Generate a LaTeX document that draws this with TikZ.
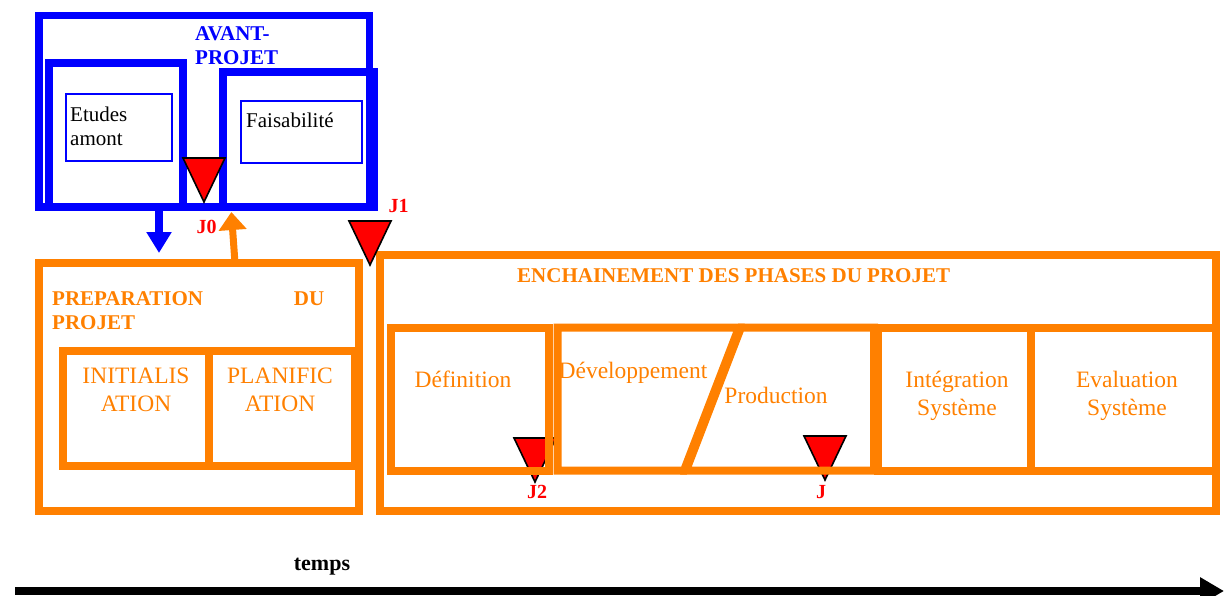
\documentclass[tikz,border=0pt]{standalone}
\usepackage{fontspec}
\setmainfont{Liberation Serif}
\usetikzlibrary{arrows.meta,calc}
\definecolor{avantblue}{RGB}{0,0,255}
\definecolor{projorange}{RGB}{255,128,0}
\definecolor{jalonred}{RGB}{255,0,0}
\tikzstyle{bluebox}=[
  draw=avantblue,
  inner sep=0pt,
  line width=8pt,
  outer sep=0pt,
  rectangle,
]
\tikzstyle{thinbox}=[
  draw=avantblue,
  inner sep=0pt,
  line width=1.5pt,
  outer sep=0pt,
  rectangle,
]
\tikzstyle{orangebox}=[
  draw=projorange,
  inner sep=0pt,
  line width=8pt,
  outer sep=0pt,
  rectangle,
]
\tikzstyle{phaseline}=[
  draw=projorange,
  line width=8pt,
]
\tikzstyle{bluetitle}=[
  align=left,
  font={\fontsize{21}{24}\selectfont\bfseries},
  inner sep=0pt,
  text=avantblue,
]
\tikzstyle{orangetitle}=[
  align=left,
  font={\fontsize{21}{24.5}\selectfont\bfseries},
  inner sep=0pt,
  text=projorange,
]
\tikzstyle{boxtext}=[
  align=left,
  font={\fontsize{21}{24}\selectfont},
  inner sep=0pt,
]
\tikzstyle{phasetext}=[
  align=center,
  font={\fontsize{23.5}{28}\selectfont},
  inner sep=0pt,
  text=projorange,
]
\tikzstyle{jalonlabel}=[
  font={\fontsize{20}{24}\selectfont\bfseries},
  inner sep=0pt,
  text=jalonred,
]
\tikzstyle{blockarrow}=[
  line width=8pt,
  -{Triangle[width=24pt,length=21pt]},
]
\tikzset{
  jalon/.pic={
    \draw [fill=jalonred, draw=black, line width=1.6pt] (-21,0) -- (21,0) -- (0,44) -- cycle;
  },
}

\begin{document}
\begin{tikzpicture}[x=1pt, y=-1pt]
      \useasboundingbox (0,0) rectangle (1225,596);
      %% avant-projet
      \node (avant) [bluebox, line width=7.5pt, minimum width=330.5pt, minimum height=191.5pt] at (204.25,111.25) {};
      \node (etudes) [bluebox, minimum width=134pt, minimum height=144pt] at (116,135) {};
      \node (faisa) [bluebox, minimum width=151pt, minimum height=135pt] at (298,139.5) {};
      \node (etudesin) [thinbox, minimum width=106pt, minimum height=67pt] at (119,127.5) {};
      \node (faisain) [thinbox, minimum width=121pt, minimum height=62pt] at (301.5,132) {};
      \node (avanttitle) [bluetitle, anchor=base west, text width=100pt] at (195,41) {AVANT-\\PROJET};
      \node (etudestext) [boxtext, anchor=base west, text width=100pt] at (70,122) {Etudes\\amont};
      \node (faisatext) [boxtext, anchor=base west] at (246,128) {Faisabilité};
      %%
      \pic at (204,158) {jalon};
      \node (j0) [jalonlabel, anchor=base] at (206.5,233) {J0};
      %% preparation du projet
      \node (prep) [orangebox, minimum width=320pt, minimum height=248pt] at (199,387) {};
      \node (init) [orangebox, minimum width=145.5pt, minimum height=115pt] at (135.75,408.5) {};
      \node (planif) [orangebox, minimum width=146.5pt, minimum height=115pt] at (281.75,408.5) {};
      \node (preptitle) [orangetitle, anchor=base west, text width=272pt] at (52,305) {PREPARATION\hfill DU\\PROJET};
      \node (inittext) [phasetext, anchor=base, text width=140pt] at (136,383) {INITIALIS\\ATION};
      \node (planiftext) [phasetext, anchor=base, text width=140pt] at (280,383) {PLANIFIC\\ATION};
      %%
      \draw [blockarrow, avantblue, shorten >=10pt] (etudes.south -| 159,0) -- (prep.north -| 159,0);
      \draw [blockarrow, projorange, line width=7pt, -{Triangle[width=27pt,length=18pt]}, shorten >=5pt] (prep.north -| 235,0) -- (faisa.south -| 231,0);
      %% enchainement des phases
      \node (ench) [orangebox, minimum width=835.5pt, minimum height=256pt] at (797.75,383) {};
      \node (enchtitle) [orangetitle, anchor=base west] at (517,282) {ENCHAINEMENT DES PHASES DU PROJET};
      \pic at (535,438) {jalon};
      \pic at (825,436) {jalon};
      \node (defin) [orangebox, minimum width=158.5pt, minimum height=143pt] at (469.75,399) {};
      \draw [phaseline] (557.5,327.5) -- (739,327.5) -- (684,470.5) -- (557.5,470.5) -- cycle;
      \draw [phaseline] (741,327.5) -- (874,327.5) -- (874,470.5) -- (686,470.5) -- cycle;
      \node (integ) [orangebox, minimum width=153pt, minimum height=143pt] at (954.5,399) {};
      \node (evalu) [orangebox, minimum width=184.5pt, minimum height=143pt] at (1123.25,399) {};
      \node (defintext) [phasetext, anchor=base] at (463,387) {Définition};
      \node (devtext) [phasetext, anchor=base] at (633,378) {Développement};
      \node (prodtext) [phasetext, anchor=base] at (776,403) {Production};
      \node (integtext) [phasetext, anchor=base, text width=140pt] at (957,387) {Intégration\\Système};
      \node (evalutext) [phasetext, anchor=base, text width=140pt] at (1127,387) {Evaluation\\Système};
      \node (j2) [jalonlabel, anchor=base] at (537,498) {J2};
      \node (j) [jalonlabel, anchor=base] at (821,498) {J};
      %%
      \pic at (370,221) {jalon};
      \node (j1) [jalonlabel, anchor=base] at (398.5,212) {J1};
      %% temps
      \coordinate (t0) at (15,591);
      \coordinate (t1) at (1224,591);
      \draw [blockarrow, black, -{Triangle[width=26pt,length=24pt]}] (t0) -- (t1);
      \node (temps) [font={\fontsize{22}{26}\selectfont\bfseries}, inner sep=0pt, anchor=base] at (322,570) {temps};
    \end{tikzpicture}
\end{document}
